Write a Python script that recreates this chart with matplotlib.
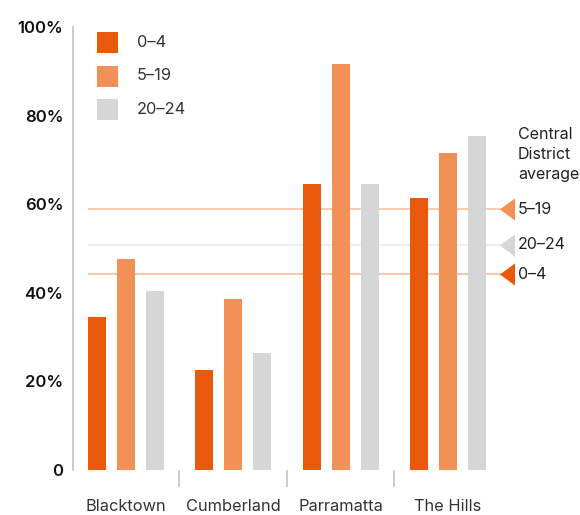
import matplotlib
matplotlib.use("Agg")
import matplotlib.pyplot as plt
from matplotlib.patches import Rectangle
import numpy as np

plt.rcParams['font.family'] = ['Inter', 'DejaVu Sans']

categories = ["Blacktown", "Cumberland", "Parramatta", "The Hills"]
series_names = ["0–4", "5–19", "20–24"]
values_0_4 = [34.5, 22.6, 64.6, 61.4]
values_5_19 = [47.6, 38.6, 91.6, 71.6]
values_20_24 = [40.4, 26.4, 64.6, 75.4]
district_avg = {"0–4": 44.2, "5–19": 58.9, "20–24": 50.8}
yticks = [0, 20, 40, 60, 80, 100]
ytick_labels = ["0", "20%", "40%", "60%", "80%", "100%"]

bar_colors = ["#E8590C", "#F29157", "#D6D6D6"]
line_colors = {"0–4": "#F8C2A4", "5–19": "#F8C6A8", "20–24": "#EDEDED"}
marker_colors = {"0–4": "#E8590C", "5–19": "#F29157", "20–24": "#D6D6D6"}

W, H = 580, 515
fig = plt.figure(figsize=(W / 100, H / 100), dpi=100)
left_px, right_px, top_px, bottom_px = 73, 573, 27, 470
ax = fig.add_axes([left_px / W, 1 - bottom_px / H,
                   (right_px - left_px) / W, (bottom_px - top_px) / H])

group_px = 107.5
step = 29 / group_px
width = 18 / group_px
x = np.arange(len(categories))
x0 = -(125.5 - left_px) / group_px
ax.set_xlim(x0, x0 + (right_px - left_px) / group_px)
ax.set_ylim(0, 100)

# average lines (behind bars)
line_start = x0 + (88 - left_px) / group_px
marker_x = x0 + (507 - left_px) / group_px
text_x = x0 + (518 - left_px) / group_px
tri = [(-0.68, 0), (0.68, 1), (0.68, -1)]
for name in ["5–19", "20–24", "0–4"]:
    v = district_avg[name]
    ax.plot([line_start, marker_x], [v, v], color=line_colors[name], lw=1.3,
            zorder=1, clip_on=False, solid_capstyle='butt')
    ax.plot([marker_x], [v], marker=tri, markersize=16, color=marker_colors[name],
            mec='none', zorder=3, clip_on=False, linestyle='none')
    ax.text(text_x, v, name, va='center', ha='left', fontsize=11.5, color='#222222')

ax.text(text_x, 71.3, "Central\nDistrict\naverage", va='center', ha='left',
        fontsize=11.5, color='#222222', linespacing=1.42)

for i, (vals, c) in enumerate(zip([values_0_4, values_5_19, values_20_24], bar_colors)):
    ax.bar(x + (i - 1) * step, vals, width=width, color=c, zorder=2,
           edgecolor='none')

# axes styling
for s in ["top", "right", "bottom"]:
    ax.spines[s].set_visible(False)
ax.spines["left"].set_color("#C8C8C8")
ax.spines["left"].set_linewidth(1.3)

ax.set_yticks(yticks)
ax.set_yticklabels(ytick_labels, fontsize=12, color='#111111', fontweight='semibold')
ax.tick_params(axis='y', length=0, pad=7)

ax.set_xticks(x)
ax.set_xticklabels(categories, fontsize=11.8, color='#333333')
ax.set_xticks([0.5, 1.5, 2.5], minor=True)
ax.tick_params(axis='x', which='major', length=0, pad=21)
ax.tick_params(axis='x', which='minor', length=12, width=1.3, color='#C8C8C8',
               direction='out')

# legend drawn in figure pixel space
leg_x, leg_y0, leg_pitch, sq = 97, 32, 33.5, 21
for i, (name, c) in enumerate(zip(series_names, bar_colors)):
    top = leg_y0 + i * leg_pitch
    fig.patches.append(Rectangle((leg_x / W, 1 - (top + sq) / H), sq / W, sq / H,
                                 transform=fig.transFigure, facecolor=c,
                                 edgecolor='none'))
    fig.text(137 / W, 1 - (top + sq / 2) / H, name, va='center', ha='left',
             fontsize=11.8, color='#333333')

fig.savefig("out.png", dpi=100)
